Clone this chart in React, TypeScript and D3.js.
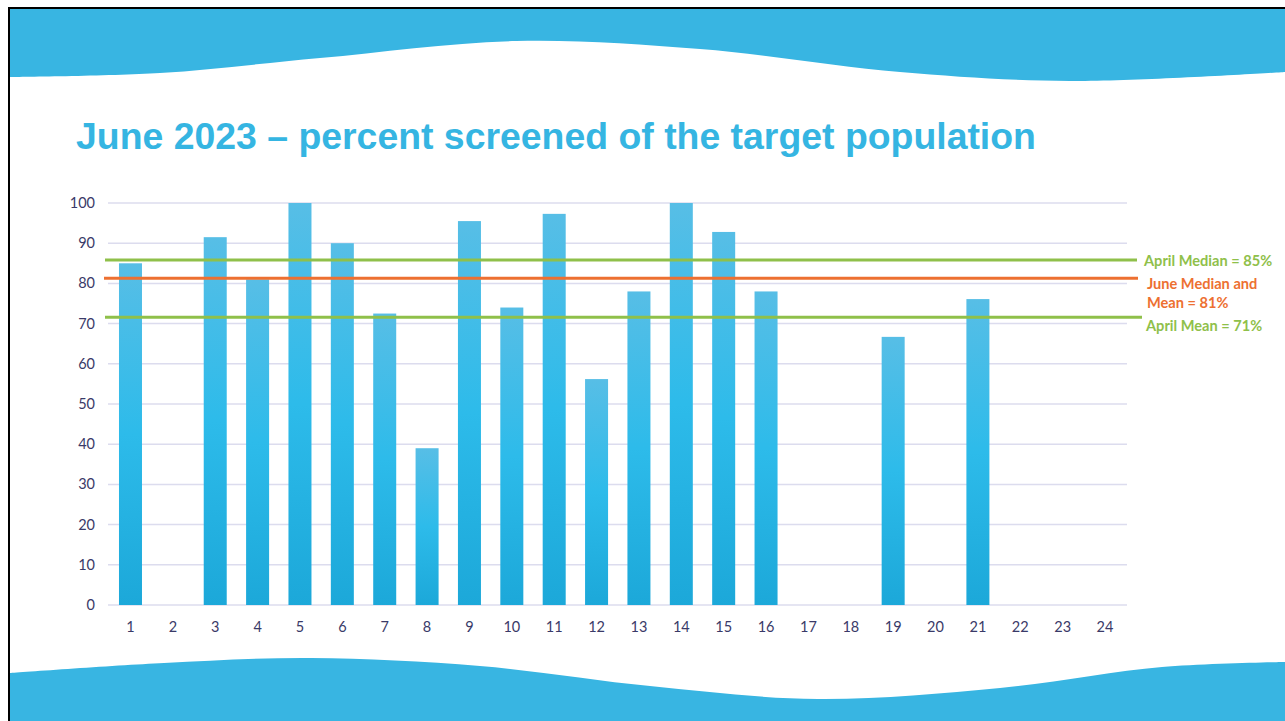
import React from "react";
import * as d3 from "d3";

const categories = ["1","2","3","4","5","6","7","8","9","10","11","12","13","14","15","16","17","18","19","20","21","22","23","24"];
const values = [85, 0, 91.5, 81, 100, 90, 72.5, 39, 95.5, 74, 97.3, 56.2, 78, 100, 92.8, 78, 0, 0, 66.7, 0, 76.1, 0, 0, 0];
const yTicks = [0, 10, 20, 30, 40, 50, 60, 70, 80, 90, 100];
const refLines = [
  { name: "April Median", value: 85.8, color: "#8fc04a" },
  { name: "June Median and Mean", value: 81.3, color: "#ed7031" },
  { name: "April Mean", value: 71.6, color: "#8fc04a" },
];
const refLabels = [
  { lines: ["April Median = 85%"], color: "#8fc04a" },
  { lines: ["June Median and", "Mean = 81%"], color: "#ed7031" },
  { lines: ["April Mean = 71%"], color: "#8fc04a" },
];
const title = "June 2023 \u2013 percent screened of the target population";

const topWave: [number, number][] = [[10,77],[160,73],[320,58],[516,41],[700,49],[900,72],[1070,81],[1285,72]];
const bottomWave: [number, number][] = [[10,673],[164,663],[311,658],[480,666],[650,686],[818,699],[1000,688],[1162,667],[1285,662]];

export default function App() {
  const W = 1285, H = 721;
  const x = d3.scaleBand<string>().domain(categories).range([109.3, 1126.2]).paddingInner(0.457).paddingOuter(0.457 / 2);
  const y = d3.scaleLinear().domain([0, 100]).range([605, 203]);
  const curve = d3.line<[number, number]>().x(d => d[0]).y(d => d[1]).curve(d3.curveCatmullRom.alpha(0.5));
  const topPath = `M10,9 L1285,9 L1285,${topWave[topWave.length - 1][1]} ` + curve([...topWave].reverse())!.replace(/^M/, "L") + " Z";
  const botPath = `M10,${H} L1285,${H} L1285,${bottomWave[bottomWave.length - 1][1]} ` + curve([...bottomWave].reverse())!.replace(/^M/, "L") + " Z";
  const labelFont = "Lato, 'Open Sans', sans-serif";
  const labelPos = [
    { x: 1144, ys: [266] },
    { x: 1147, ys: [289, 308] },
    { x: 1146, ys: [331] },
  ];
  const lineX = [[105, 1137], [104, 1138], [105, 1142]];
  return (
    <svg width={W} height={H} style={{ position: "absolute", left: 0, top: 0, background: "#fff" }}>
      <defs>
        <linearGradient id="barGrad" x1="0" y1="0" x2="0" y2="1">
          <stop offset="0%" stopColor="#57bee6" />
          <stop offset="50%" stopColor="#2dbbea" />
          <stop offset="100%" stopColor="#1ca8d9" />
        </linearGradient>
      </defs>
      <rect x={0} y={0} width={W} height={H} fill="#fff" />
      <path d={topPath} fill="#38b5e2" />
      <path d={botPath} fill="#38b5e2" />
      <line x1={9} y1={8} x2={W} y2={8} stroke="#000" strokeWidth={2} />
      <line x1={9} y1={7} x2={9} y2={H} stroke="#000" strokeWidth={2} />
      <text x={76} y={149} fill="#35b5e2" fontFamily="'Liberation Sans', Arial, sans-serif" fontWeight="bold" fontSize={37.4}>{title}</text>
      {yTicks.map(t => (
        <g key={t}>
          <line x1={108} x2={1127} y1={y(t)} y2={y(t)} stroke="#dcdcee" strokeWidth={1.5} />
          <text x={95} y={y(t)} dy="0.35em" textAnchor="end" fill="#3a3a68" fontFamily={labelFont} fontSize={14.5}>{t}</text>
        </g>
      ))}
      {categories.map((c, i) => (
        <g key={c}>
          {values[i] > 0 && (
            <rect x={x(c)} y={y(values[i])} width={x.bandwidth()} height={y(0) - y(values[i])} fill="url(#barGrad)" />
          )}
          <text x={(x(c) as number) + x.bandwidth() / 2} y={632} textAnchor="middle" fill="#3a3a68" fontFamily={labelFont} fontSize={14.5}>{c}</text>
        </g>
      ))}
      {refLines.map((r, i) => (
        <line key={r.name} x1={lineX[i][0]} x2={lineX[i][1]} y1={y(r.value)} y2={y(r.value)} stroke={r.color} strokeWidth={3} />
      ))}
      {refLabels.map((l, i) => (
        <g key={i}>
          {l.lines.map((s, j) => (
            <text key={j} x={labelPos[i].x} y={labelPos[i].ys[j]} fill={l.color} fontFamily={labelFont} fontWeight="bold" fontSize={14.6}>{s}</text>
          ))}
        </g>
      ))}
    </svg>
  );
}
